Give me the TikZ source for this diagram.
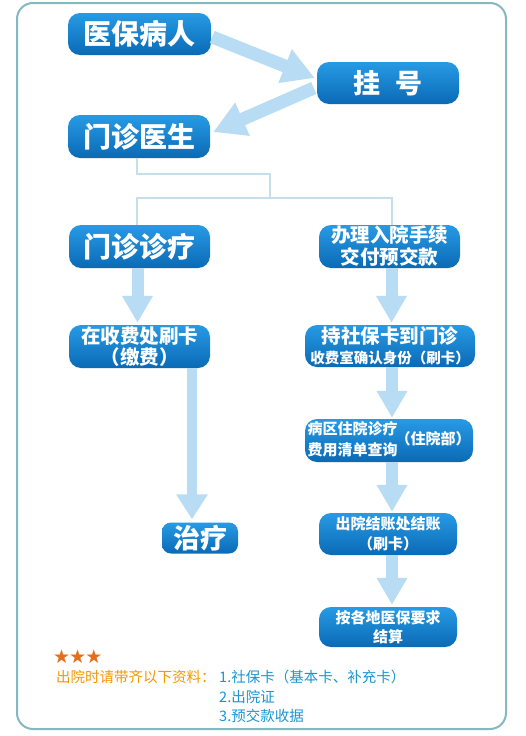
\documentclass[tikz,border=0pt]{standalone}
\usepackage{fontspec}
\newfontfamily\cjk{Noto Sans CJK SC}
\newfontfamily\dejavu{DejaVu Sans}
\usetikzlibrary{arrows.meta,calc}
\definecolor{boxtop}{RGB}{40,154,228}
\definecolor{boxbot}{RGB}{10,106,182}
\definecolor{arr}{RGB}{184,220,243}
\definecolor{conn}{RGB}{196,222,234}
\definecolor{frame}{RGB}{134,184,192}
\definecolor{orangetxt}{RGB}{245,152,0}
\definecolor{bluetxt}{RGB}{24,150,210}
\definecolor{starc}{RGB}{226,110,30}
\tikzset{
  bluebox/.style={rounded corners=12pt, top color=boxtop, bottom color=boxbot,
    draw=none, text=white, align=center, inner sep=0pt,
    font=\cjk\bfseries},
  fat/.style={draw=arr, line width=12pt, -{Triangle[width=29pt,length=27pt]}},
  fatdiag/.style={draw=arr, line width=13pt, -{Triangle[width=34pt,length=32pt]}},
  connline/.style={draw=conn, line width=1.6pt},
  notetxt/.style={anchor=west, inner sep=0pt, font=\cjk\fontsize{14.5}{16}\selectfont},
}
\begin{document}
\begin{tikzpicture}[x=1pt,y=-1pt]
\useasboundingbox (0,0) rectangle (525,736);
\fill[white] (0,0) rectangle (525,736);
\draw[frame, line width=2pt, rounded corners=16pt] (17,3) rectangle (506,729);

% boxes
\node[bluebox, minimum width=143pt, minimum height=42pt, font=\cjk\bfseries\fontsize{28}{30}\selectfont] (a) at (139.5,34) {医保病人};
\node[bluebox, minimum width=142pt, minimum height=42pt, font=\cjk\bfseries\fontsize{27}{30}\selectfont] (b) at (388,83) {挂\hspace{0.55em}号};
\node[bluebox, minimum width=142pt, minimum height=43pt, font=\cjk\bfseries\fontsize{28}{30}\selectfont] (c) at (139,136.5) {门诊医生};
\node[bluebox, minimum width=141pt, minimum height=43pt, font=\cjk\bfseries\fontsize{28}{30}\selectfont] (d) at (139.5,246.5) {门诊诊疗};
\node[bluebox, minimum width=141pt, minimum height=43pt, font=\cjk\bfseries\fontsize{19.5}{22}\selectfont] (e) at (389.5,246.5) {办理入院手续\\交付预交款};
\node[bluebox, minimum width=141pt, minimum height=43pt, font=\cjk\bfseries\fontsize{19.5}{21}\selectfont] (f) at (139.5,346.5) {在收费处刷卡\\（缴费）};
\node[bluebox, minimum width=170pt, minimum height=42pt, font=\cjk\bfseries\fontsize{19.5}{20}\selectfont] (g) at (390,346) {持社保卡到门诊\\{\fontsize{14.5}{16}\selectfont 收费室确认身份（刷卡）}};
\node[bluebox, minimum width=168pt, minimum height=43pt, font=\cjk\bfseries\fontsize{15}{20}\selectfont] (h) at (389,440.5) {\begin{tabular}{@{}c@{}}病区住院诊疗\\[1pt]费用清单查询\end{tabular}\hspace{-2pt}（住院部）};
\node[bluebox, minimum width=138pt, minimum height=42pt, font=\cjk\bfseries\fontsize{15}{20}\selectfont] (i) at (388,534) {出院结账处结账\\（刷卡）};
\node[bluebox, minimum width=138pt, minimum height=40pt, font=\cjk\bfseries\fontsize{15}{19.5}\selectfont] (j) at (388,627) {按各地医保要求\\结算};
\node[bluebox, rounded corners=9pt, minimum width=76pt, minimum height=31pt, font=\cjk\bfseries\fontsize{27}{30}\selectfont] (k) at (200,538) {治疗};

% connector tree
\coordinate (t1) at (137,174);
\coordinate (t2) at (270,174);
\coordinate (t3) at (270,198);
\coordinate (tl) at (137,198);
\coordinate (tr) at (392,198);
\draw[connline] (c.south -| t1) -- (t1) -- (t2) -- (t3);
\draw[connline] (d.north -| tl) -- (tl) -- (tr) -- (e.north -| tr);

% fat arrows
\draw[fatdiag] ($(a.east)+(1,3)$) -- ($(b.west)+(-2,-5)$);
\draw[fatdiag] ($(b.west)+(-3,5)$) -- ($(c.east)+(3,-4.5)$);
\draw[fat] ($(d.south)+(-2,0)$) -- ($(f.north)+(-2,-2)$);
\draw[fat] ($(e.south)+(2,0)$) -- ($(g.north)+(1.5,-2)$);
\draw[fat] ($(g.south)+(2,0)$) -- ($(h.north)+(3,-1)$);
\draw[fat] ($(h.south)+(3,0)$) -- ($(i.north)+(4,-1)$);
\draw[fat] ($(i.south)+(4,0)$) -- ($(j.north)+(4,-2)$);
\draw[draw=arr, line width=10pt, -{Triangle[width=30pt,length=25pt]}] (f.south -| k) ++(-8,0) coordinate (fk) -- ($(k.north)+(-8,-3)$);

% bottom notes
\node[anchor=west, text=starc, font=\dejavu\fontsize{19}{20}\selectfont, inner sep=0pt] (stars) at (53,657) {★\hspace{-1pt}★\hspace{-1pt}★};
\node[notetxt, text=orangetxt] (note) at (56,677) {出院时请带齐以下资料：};
\node[notetxt, text=bluetxt] (n1) at (219,677) {1.社保卡（基本卡、补充卡）};
\node[notetxt, text=bluetxt] (n2) at (219,697) {2.出院证};
\node[notetxt, text=bluetxt] (n3) at (219,716) {3.预交款收据};
\end{tikzpicture}
\end{document}
